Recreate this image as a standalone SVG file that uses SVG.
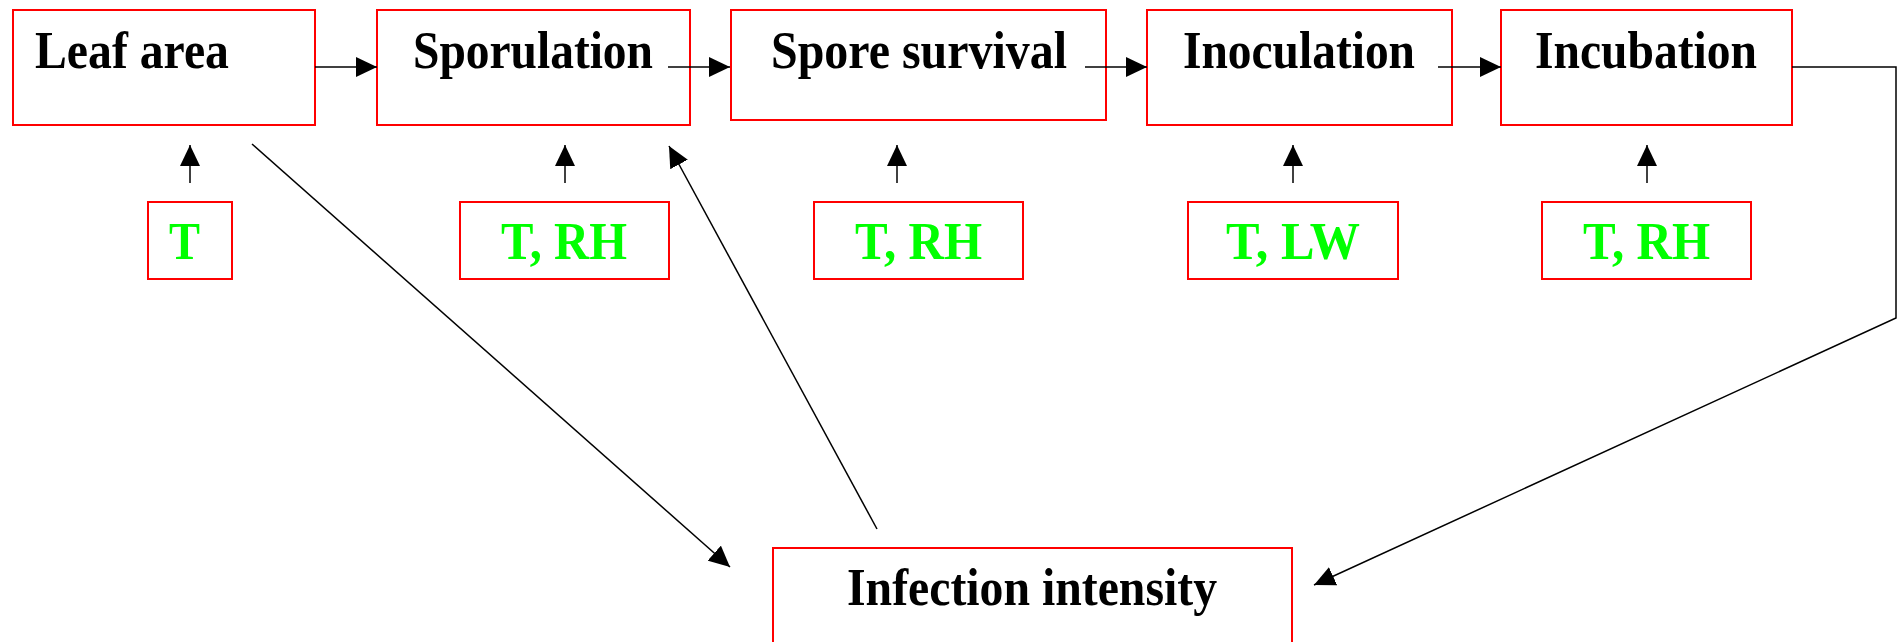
<svg xmlns="http://www.w3.org/2000/svg" width="1899" height="642" viewBox="0 0 1899 642">
<style>
.box{fill:#fff;stroke:#ff0000;stroke-width:2}
.lbl{font-family:"Liberation Serif","Times New Roman",serif;font-weight:bold;font-size:52px;fill:#000}
.env{font-family:"Liberation Serif","Times New Roman",serif;font-weight:bold;font-size:52px;fill:#00ff00}
.con{fill:none;stroke:#000;stroke-width:1.5}
</style>
<defs>
<marker id="ah" viewBox="0 0 21 20" refX="21" refY="10" markerWidth="21" markerHeight="20" orient="auto" markerUnits="userSpaceOnUse">
<path d="M0,0 L21,10 L0,20 Z" fill="#000"/>
</marker>
</defs>
<g id="leaf-area"><rect class="box" x="13" y="10" width="302" height="115"/><text class="lbl" x="35" y="68" textLength="194" lengthAdjust="spacingAndGlyphs">Leaf area</text></g>
<g id="sporulation"><rect class="box" x="377" y="10" width="313" height="115"/><text class="lbl" x="413" y="68" textLength="240" lengthAdjust="spacingAndGlyphs">Sporulation</text></g>
<g id="spore-survival"><rect class="box" x="731" y="10" width="375" height="110"/><text class="lbl" x="771" y="68" textLength="296" lengthAdjust="spacingAndGlyphs">Spore survival</text></g>
<g id="inoculation"><rect class="box" x="1147" y="10" width="305" height="115"/><text class="lbl" x="1183" y="68" textLength="232" lengthAdjust="spacingAndGlyphs">Inoculation</text></g>
<g id="incubation"><rect class="box" x="1501" y="10" width="291" height="115"/><text class="lbl" x="1535" y="68" textLength="222" lengthAdjust="spacingAndGlyphs">Incubation</text></g>
<g id="env-leaf"><rect class="box" x="148" y="202" width="84" height="77"/><text class="env" x="169" y="259" textLength="31" lengthAdjust="spacingAndGlyphs">T</text></g>
<g id="env-sporulation"><rect class="box" x="460" y="202" width="209" height="77"/><text class="env" x="501" y="259" textLength="126" lengthAdjust="spacingAndGlyphs">T, RH</text></g>
<g id="env-survival"><rect class="box" x="814" y="202" width="209" height="77"/><text class="env" x="855" y="259" textLength="127" lengthAdjust="spacingAndGlyphs">T, RH</text></g>
<g id="env-inoculation"><rect class="box" x="1188" y="202" width="210" height="77"/><text class="env" x="1226" y="259" textLength="134" lengthAdjust="spacingAndGlyphs">T, LW</text></g>
<g id="env-incubation"><rect class="box" x="1542" y="202" width="209" height="77"/><text class="env" x="1583" y="259" textLength="127" lengthAdjust="spacingAndGlyphs">T, RH</text></g>
<g id="infection-intensity"><rect class="box" x="773" y="548" width="519" height="120"/><text class="lbl" x="847" y="605" textLength="370" lengthAdjust="spacingAndGlyphs">Infection intensity</text></g>
<g id="connectors">
<line class="con" x1="315" y1="67" x2="377" y2="67" marker-end="url(#ah)"/>
<line class="con" x1="668" y1="67" x2="730" y2="67" marker-end="url(#ah)"/>
<line class="con" x1="1085" y1="67" x2="1147" y2="67" marker-end="url(#ah)"/>
<line class="con" x1="1438" y1="67" x2="1501" y2="67" marker-end="url(#ah)"/>
<line class="con" x1="190" y1="183" x2="190" y2="145" marker-end="url(#ah)"/>
<line class="con" x1="565" y1="183" x2="565" y2="145" marker-end="url(#ah)"/>
<line class="con" x1="897" y1="183" x2="897" y2="145" marker-end="url(#ah)"/>
<line class="con" x1="1293" y1="183" x2="1293" y2="145" marker-end="url(#ah)"/>
<line class="con" x1="1647" y1="183" x2="1647" y2="145" marker-end="url(#ah)"/>
<line class="con" x1="252" y1="144" x2="730" y2="567" marker-end="url(#ah)"/>
<line class="con" x1="877" y1="529" x2="669" y2="146" marker-end="url(#ah)"/>
<polyline class="con" points="1792,67 1896,67 1896,318 1314,585" marker-end="url(#ah)"/>
</g>
</svg>
